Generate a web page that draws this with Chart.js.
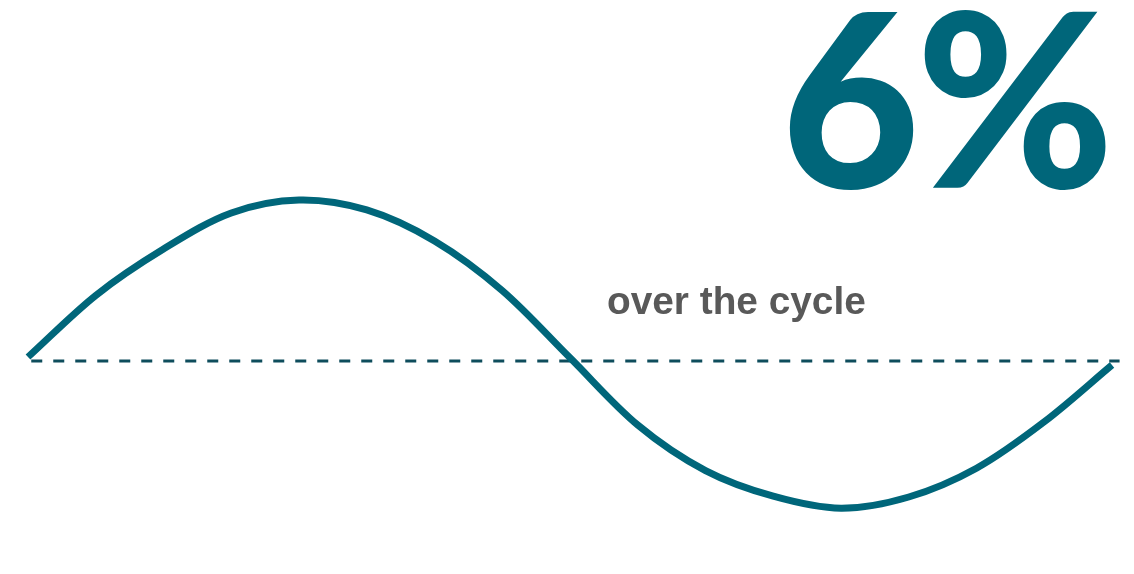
<!DOCTYPE html>
<html>
<head>
<meta charset="utf-8">
<script src="https://cdn.jsdelivr.net/npm/chart.js@4.4.1/dist/chart.umd.min.js"></script>
<style>
  html,body{margin:0;padding:0;background:#fff;}
  #wrap{position:relative;width:1134px;height:574px;overflow:hidden;}
  #bigNum{position:absolute;left:781px;top:-26px;font-family:"Lato",sans-serif;font-weight:900;font-size:242px;color:#00667a;letter-spacing:-4px;line-height:1;white-space:nowrap;transform:scaleX(0.99);transform-origin:0 0;}
  #caption{position:absolute;left:607px;top:282px;font-family:"Liberation Sans",Arial,sans-serif;font-weight:bold;font-size:38.8px;color:#595959;white-space:nowrap;line-height:1;}
</style>
</head>
<body>
<div id="wrap">
  <canvas id="cycleChart" width="1134" height="574"></canvas>
  <div id="bigNum">6%</div>
  <div id="caption">over the cycle</div>
</div>
<script>
// ================= DATA =================
// position through the cycle (0..100) and deviation from trend
const cyclePos  = [0, 6.25, 12.5, 18.75, 25, 31.25, 37.5, 43.75, 50, 56.25, 62.5, 68.75, 75, 81.25, 87.5, 93.75, 100];
const deviation = [0.25, 4.1, 7.0, 9.25, 10.06, 9.44, 7.5, 4.4, 0.2, -4.0, -6.85, -8.45, -9.2, -8.5, -6.7, -3.8, -0.25];
const trendPos = [0.3, 100.7];
const trendVal = [0, 0];

// ================= CHART =================
const $ = id => document.getElementById(id);

new Chart($("cycleChart").getContext("2d"), {
    type: "line",
    data: {
        datasets: [
            {
                data: cyclePos.map((x,i)=>({x, y: deviation[i]})),
                borderColor: "#00667a", borderWidth: 7, pointRadius: 0,
                tension: 0.33, fill: false, clip: false,
                borderCapStyle: "butt", order: 1
            },
            {
                data: trendPos.map((x,i)=>({x, y: trendVal[i]})),
                borderColor: "#0e4d5c", borderWidth: 3, borderDash: [11,11],
                pointRadius: 0, fill: false, clip: false, order: 2
            }
        ]
    },
    options: {
        responsive: false, animation: false, events: [],
        layout: {padding: {left: 28, right: 22, top: 169, bottom: 21}},
        plugins: {legend: {display: false}, tooltip: {enabled: false}},
        scales: {
            x: {type: "linear", min: 0, max: 100, display: false},
            y: {min: -12, max: 12, display: false}
        }
    }
});
</script>
</body>
</html>
